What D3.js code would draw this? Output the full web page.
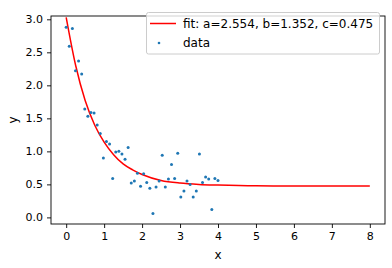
<!DOCTYPE html>
<html>
<head>
<meta charset="utf-8">
<script src="https://cdn.jsdelivr.net/npm/d3@7"></script>
<style>
  body { margin: 0; background: #fff; }
  text { font-family: "DejaVu Sans", sans-serif; }
</style>
</head>
<body>
<div id="canvas"></div>
<script>
"use strict"

/* data: 50 samples, x = 0..4 */
let dataY = [2.88, 2.59, 2.86, 2.22, 2.37, 2.17, 1.64, 1.53, 1.59, 1.58,
    1.40, 1.27, 0.90, 1.15, 1.11, 0.59, 0.99, 1.00, 0.96, 0.88,
    1.06, 0.52, 0.55, 0.67, 0.47, 0.66, 0.53, 0.44, 0.06, 0.46,
    0.55, 0.94, 0.46, 0.58, 0.80, 0.59, 0.97, 0.31, 0.40, 0.55,
    0.50, 0.31, 0.40, 0.96, 0.53, 0.61, 0.58, 0.12, 0.59, 0.56];
let dataX = dataY.map((d, i) => 4 * i / 49);

/* fitted curve */
let fitX = [0, 0.25, 0.5, 0.75, 1, 1.25, 1.5, 1.75, 2, 2.5, 3, 3.5, 4, 5, 6, 7, 8];
let fitY = [3.03, 2.30, 1.77, 1.40, 1.14, 0.95, 0.81, 0.72, 0.65, 0.56, 0.52, 0.50, 0.49, 0.478, 0.476, 0.475, 0.475];

let xTicks = [0, 1, 2, 3, 4, 5, 6, 7, 8];
let yTicks = [0.0, 0.5, 1.0, 1.5, 2.0, 2.5, 3.0];
let legendLabels = ["fit: a=2.554, b=1.352, c=0.475", "data"];

let width = 392;
let height = 268;
let plotLeft = 51, plotRight = 385, plotTop = 16, plotBottom = 224;

let drawing = d3.select("#canvas")
    .append("svg")
    .attr("width", width)
    .attr("height", height);

let xScale = d3.scaleLinear().domain([-0.4, 8.4]).range([plotLeft, plotRight]);
let yScale = d3.scaleLinear().domain([-0.1, 3.05]).range([plotBottom, plotTop]);

/* axes */
let xAxis = drawing.append("g")
    .attr("transform", "translate(0," + plotBottom + ")")
    .call(d3.axisBottom(xScale).tickValues(xTicks).tickFormat(d3.format("d")).tickSize(4).tickPadding(4));

let yAxis = drawing.append("g")
    .attr("transform", "translate(" + plotLeft + ",0)")
    .call(d3.axisLeft(yScale).tickValues(yTicks).tickFormat(d3.format(".1f")).tickSize(4).tickPadding(4));

drawing.selectAll(".domain").remove();
drawing.selectAll(".tick line").attr("stroke", "#000").attr("stroke-width", 0.9);
drawing.selectAll(".tick text")
    .attr("fill", "#000")
    .style("font-size", "11px")
    .style("font-family", "DejaVu Sans");

/* frame */
let frame = drawing.append("rect")
    .attr("x", plotLeft)
    .attr("y", plotTop)
    .attr("width", plotRight - plotLeft)
    .attr("height", plotBottom - plotTop)
    .attr("fill", "none")
    .attr("stroke", "#000")
    .attr("stroke-width", 0.9);

/* axis labels */
drawing.append("text")
    .attr("x", (plotLeft + plotRight) / 2)
    .attr("y", 259)
    .attr("text-anchor", "middle")
    .style("font-size", "12px")
    .text("x");

drawing.append("text")
    .attr("transform", "translate(17," + ((plotTop + plotBottom) / 2) + ") rotate(-90)")
    .attr("text-anchor", "middle")
    .style("font-size", "12px")
    .text("y");

/* fit line */
let line = d3.line()
    .x((d, i) => xScale(fitX[i]))
    .y(d => yScale(d))
    .curve(d3.curveMonotoneX);

drawing.append("path")
    .attr("d", line(fitY))
    .attr("fill", "none")
    .attr("stroke", "#ff0000")
    .attr("stroke-width", 1.5);

/* data points */
drawing.selectAll(".pt")
    .data(dataY)
    .enter()
    .append("circle")
    .attr("cx", (d, i) => xScale(dataX[i]))
    .attr("cy", d => yScale(d))
    .attr("r", 1.5)
    .attr("fill", "#1f77b4");

/* legend */
let legend = drawing.append("g");
legend.append("rect")
    .attr("x", 146.5)
    .attr("y", 12.5)
    .attr("width", 233)
    .attr("height", 41.5)
    .attr("rx", 2)
    .attr("fill", "#fff")
    .attr("fill-opacity", 0.8)
    .attr("stroke", "#cccccc")
    .attr("stroke-width", 1);

legend.append("line")
    .attr("x1", 150)
    .attr("x2", 176)
    .attr("y1", 23.5)
    .attr("y2", 23.5)
    .attr("stroke", "#ff0000")
    .attr("stroke-width", 1.5);

legend.append("circle")
    .attr("cx", 159)
    .attr("cy", 43)
    .attr("r", 1.3)
    .attr("fill", "#1f77b4");

legend.selectAll(".lt")
    .data(legendLabels)
    .enter()
    .append("text")
    .attr("x", 183)
    .attr("y", (d, i) => 28 + i * 19)
    .style("font-size", "12px")
    .text(d => d);
</script>
</body>
</html>
